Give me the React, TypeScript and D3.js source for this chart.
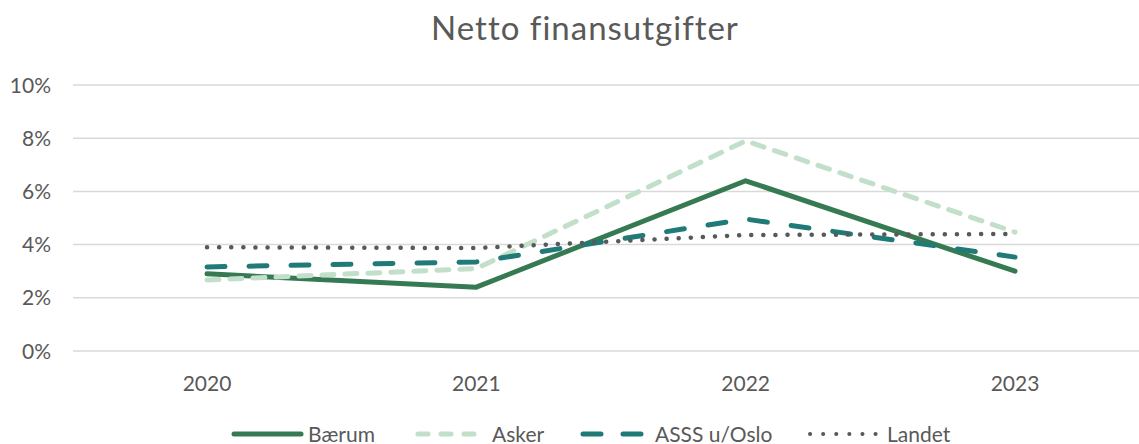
import React from "react";
import * as d3 from "d3";

const categories = ["2020", "2021", "2022", "2023"];
const baerum = [2.9, 2.4, 6.4, 3.0];
const asker = [2.67, 3.1, 7.9, 4.47];
const asss = [3.16, 3.35, 4.96, 3.53];
const landet = [3.9, 3.87, 4.36, 4.4];
const yTicks = [0, 2, 4, 6, 8, 10];

const W = 1139;
const H = 444;
const FONT = "Lato, 'Open Sans', sans-serif";

const seriesDefs = [
  { name: "Bærum", values: baerum, color: "#367a54", dash: "", width: 5 },
  { name: "Asker", values: asker, color: "#c2dfc9", dash: "12 11", width: 5 },
  { name: "ASSS u/Oslo", values: asss, color: "#1f7a78", dash: "18 24", width: 5 },
  { name: "Landet", values: landet, color: "#595959", dash: "0.1 12", width: 4.5 },
];

const legendItems = [
  { x0: 234, x1: 301, tx: 308, dash: "" },
  { x0: 418, x1: 479, tx: 492, dash: "10 13" },
  { x0: 583, x1: 641, tx: 655, dash: "18 22" },
  { x0: 810, x1: 876, tx: 887, dash: "0.1 13" },
];

export default function App() {
  const x = d3.scalePoint<string>().domain(categories).range([207, 1015]);
  const y = d3.scaleLinear().domain([0, 10]).range([351, 85]);
  const line = d3
    .line<number>()
    .x((_, i) => x(categories[i]) as number)
    .y((d) => y(d));

  return (
    <svg
      width={W}
      height={H}
      style={{ position: "absolute", left: 0, top: 0, background: "#fff" }}
    >
      <text
        x={585}
        y={40}
        textAnchor="middle"
        fontFamily={FONT}
        fontSize={33}
        letterSpacing={1}
        fill="#595959"
      >
        Netto finansutgifter
      </text>
      {yTicks.map((t) => (
        <g key={t}>
          <line x1={73} x2={W} y1={y(t)} y2={y(t)} stroke="#d9d9d9" strokeWidth={1.5} />
          <text
            x={51}
            y={y(t) + 7.5}
            textAnchor="end"
            fontFamily={FONT}
            fontSize={21}
            fill="#595959"
          >
            {t}%
          </text>
        </g>
      ))}
      {categories.map((c) => (
        <text
          key={c}
          x={x(c)}
          y={391}
          textAnchor="middle"
          fontFamily={FONT}
          fontSize={21}
          fill="#595959"
        >
          {c}
        </text>
      ))}
      {seriesDefs.map((s) => (
        <path
          key={s.name}
          d={line(s.values) || ""}
          fill="none"
          stroke={s.color}
          strokeWidth={s.width}
          strokeDasharray={s.dash}
          strokeLinecap="round"
          strokeLinejoin="round"
        />
      ))}
      {seriesDefs.map((s, i) => {
        const li = legendItems[i];
        return (
          <g key={s.name}>
            <line
              x1={li.x0}
              x2={li.x1}
              y1={434}
              y2={434}
              stroke={s.color}
              strokeWidth={s.name === "Landet" ? 4 : 5}
              strokeDasharray={li.dash}
              strokeLinecap="round"
            />
            <text
              x={li.tx}
              y={442}
              fontFamily={FONT}
              fontSize={21}
              fill="#595959"
            >
              {s.name}
            </text>
          </g>
        );
      })}
    </svg>
  );
}
